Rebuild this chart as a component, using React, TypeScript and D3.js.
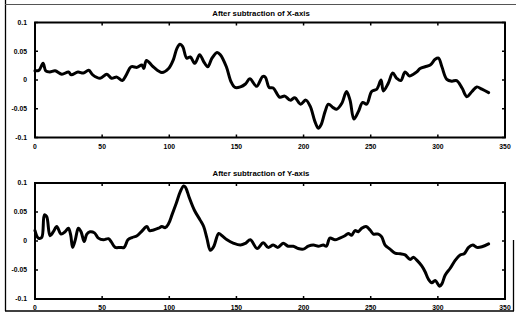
import * as d3 from "d3";

const xTicks = [0, 50, 100, 150, 200, 250, 300, 350];
const yTicks = [0.1, 0.05, 0, -0.05, -0.1];
const yTickLabels = ["0.1", "0.05", "0", "-0.05", "-0.1"];
const titles = ["After subtraction of X-axis", "After subtraction of Y-axis"];

const topX = [0, 3, 6, 8, 11, 15, 20, 25, 27, 32, 36, 40, 43, 48.5, 53.5, 57, 61, 65, 68, 71.6, 76, 79.6, 81, 83, 88, 94.5, 99.5, 103, 105.7, 108, 110, 113, 115.7, 119, 122.6, 125.6, 128.6, 131.8, 135.6, 138, 142.5, 146, 149, 153, 156.7, 160, 165, 169.5, 171.5, 174.4, 177.4, 182.3, 186, 190, 193.5, 197.8, 201.7, 205, 208.4, 211, 213, 216, 218.5, 222, 224.6, 228.4, 232, 234.6, 237.5, 240.8, 244, 247, 250.7, 254.5, 257.7, 259.4, 263, 266.4, 269.4, 272.4, 275.6, 278.9, 281.8, 284.3, 286.8, 290.5, 294.3, 298, 300.5, 303, 306.7, 310.4, 314, 318, 321.6, 325.4, 329, 332.8, 337.8];
const topY = [0.016, 0.017, 0.029, 0.016, 0.014, 0.016, 0.01, 0.014, 0.009, 0.014, 0.012, 0.017, 0.009, 0.003, 0.01, 0.003, 0.005, -0.001, 0.009, 0.023, 0.022, 0.026, 0.02, 0.034, 0.023, 0.013, 0.02, 0.035, 0.055, 0.062, 0.058, 0.038, 0.04, 0.029, 0.044, 0.032, 0.023, 0.038, 0.048, 0.044, 0.023, -0.003, -0.013, -0.012, -0.007, 0.002, -0.011, 0.006, 0.005, -0.013, -0.014, -0.03, -0.028, -0.035, -0.031, -0.042, -0.035, -0.046, -0.072, -0.084, -0.078, -0.055, -0.042, -0.048, -0.051, -0.041, -0.02, -0.035, -0.068, -0.055, -0.039, -0.042, -0.02, -0.016, 0.0, -0.019, -0.006, 0.012, 0.003, -0.001, 0.014, 0.007, 0.01, 0.014, 0.02, 0.023, 0.026, 0.036, 0.038, 0.023, 0.001, -0.002, -0.001, -0.014, -0.029, -0.02, -0.012, -0.016, -0.022];

const bottomX = [0, 2.5, 5, 7, 8.7, 11.2, 13.7, 16.2, 19.4, 22.4, 24.9, 26.6, 28, 30, 32.3, 34.3, 36.6, 38.6, 41, 44.3, 47.2, 51, 54.7, 56.7, 59.7, 63.4, 66.4, 69.2, 72.2, 76, 79.6, 83.3, 85.3, 88.3, 92, 94.5, 97, 99.5, 102, 105.2, 108.2, 110.7, 112, 115, 118.7, 123, 125.6, 128, 130.6, 133, 136.8, 139.3, 143, 148, 153, 156.7, 160.4, 165.4, 170, 173.6, 177.4, 181, 184.8, 188.5, 192.3, 196, 199.8, 203.5, 207.3, 211, 214.7, 217, 219.6, 223.4, 227, 230.8, 233.3, 235.8, 238.3, 240.8, 243.3, 246.5, 249.5, 252, 255.7, 258.2, 260.7, 264.4, 268.1, 272, 275.6, 279.4, 281.8, 284.3, 288, 290.5, 293, 295.5, 298, 301.3, 303, 305.4, 309.2, 313, 316.6, 319.6, 322.9, 326, 329, 332.8, 337.8];
const bottomY = [0.018, 0.005, 0.006, 0.045, 0.042, 0.009, 0.016, 0.025, 0.012, 0.016, 0.022, 0.01, -0.011, 0.002, 0.022, 0.016, -0.001, 0.012, 0.016, 0.014, 0.005, 0.002, 0.004, -0.001, -0.011, -0.011, -0.011, 0.002, 0.006, 0.009, 0.017, 0.025, 0.018, 0.019, 0.022, 0.025, 0.023, 0.03, 0.045, 0.065, 0.085, 0.095, 0.093, 0.074, 0.053, 0.036, 0.025, 0.005, -0.016, -0.01, 0.013, 0.009, 0.002, -0.004, -0.007, -0.004, 0.002, -0.013, -0.003, -0.011, -0.007, -0.011, -0.004, -0.009, -0.009, -0.013, -0.014, -0.009, -0.007, -0.009, -0.007, -0.009, 0.005, 0.002, 0.005, 0.009, 0.013, 0.01, 0.018, 0.016, 0.022, 0.025, 0.019, 0.012, 0.012, 0.007, -0.007, -0.014, -0.021, -0.022, -0.024, -0.032, -0.028, -0.033, -0.043, -0.053, -0.066, -0.072, -0.068, -0.078, -0.074, -0.059, -0.047, -0.033, -0.024, -0.022, -0.011, -0.007, -0.011, -0.01, -0.005];

const W = 516;
const H = 317;
const font = "'Liberation Sans', Arial, sans-serif";

type PanelProps = { xs: number[]; ys: number[]; top: number; bottom: number; title: string };

const Panel = ({ xs, ys, top, bottom, title }: PanelProps) => {
    const x = d3.scaleLinear().domain([0, 350]).range([35, 505]);
    const y = d3.scaleLinear().domain([-0.1, 0.1]).range([bottom, top]);
    const line = d3
        .line<number>()
        .x((_, i) => x(xs[i]))
        .y((d) => y(d))
        .curve(d3.curveCatmullRom.alpha(0.5));
    const tl = 3;

    return (
        <g>
            <text x={261} y={top - 7} fontSize={7.8} fontWeight="bold" fontFamily={font} textAnchor="middle">
                {title}
            </text>
            <rect x={x(0)} y={top} width={x(350) - x(0)} height={bottom - top} fill="none" stroke="#000" strokeWidth={2} />
            {xTicks.map((t) => (
                <g key={t}>
                    <line x1={x(t)} x2={x(t)} y1={bottom} y2={bottom - tl} stroke="#000" strokeWidth={1.5} />
                    <line x1={x(t)} x2={x(t)} y1={top} y2={top + tl} stroke="#000" strokeWidth={1.5} />
                    <text x={x(t)} y={bottom + 11} fontSize={6.8} fontWeight="bold" fontFamily={font} textAnchor="middle">
                        {t}
                    </text>
                </g>
            ))}
            {yTicks.map((t, i) => (
                <g key={t}>
                    <line x1={x(0)} x2={x(0) + tl} y1={y(t)} y2={y(t)} stroke="#000" strokeWidth={1.5} />
                    <line x1={x(350)} x2={x(350) - tl} y1={y(t)} y2={y(t)} stroke="#000" strokeWidth={1.5} />
                    <text x={27} y={y(t)} dy="0.35em" fontSize={6.8} fontWeight="bold" fontFamily={font} textAnchor="end">
                        {yTickLabels[i]}
                    </text>
                </g>
            ))}
            <path d={line(ys) ?? ""} fill="none" stroke="#000" strokeWidth={3} strokeLinejoin="round" strokeLinecap="round" />
        </g>
    );
};

export default function App() {
    return (
        <div style={{ position: "absolute", left: 0, top: 0 }}>
            <svg width={W} height={H} style={{ display: "block", background: "#fff" }}>
                <line x1={5.5} x2={5.5} y1={0} y2={311} stroke="#000" strokeWidth={1.3} />
                <line x1={5} x2={516} y1={4.5} y2={4.5} stroke="#555" strokeWidth={1} />
                <line x1={5} x2={514} y1={311} y2={311} stroke="#000" strokeWidth={1.3} />
                <line x1={513.5} x2={513.5} y1={240} y2={311} stroke="#000" strokeWidth={1.3} />
                <Panel xs={topX} ys={topY} top={22.5} bottom={137.5} title={titles[0]} />
                <Panel xs={bottomX} ys={bottomY} top={183} bottom={299} title={titles[1]} />
            </svg>
        </div>
    );
}
